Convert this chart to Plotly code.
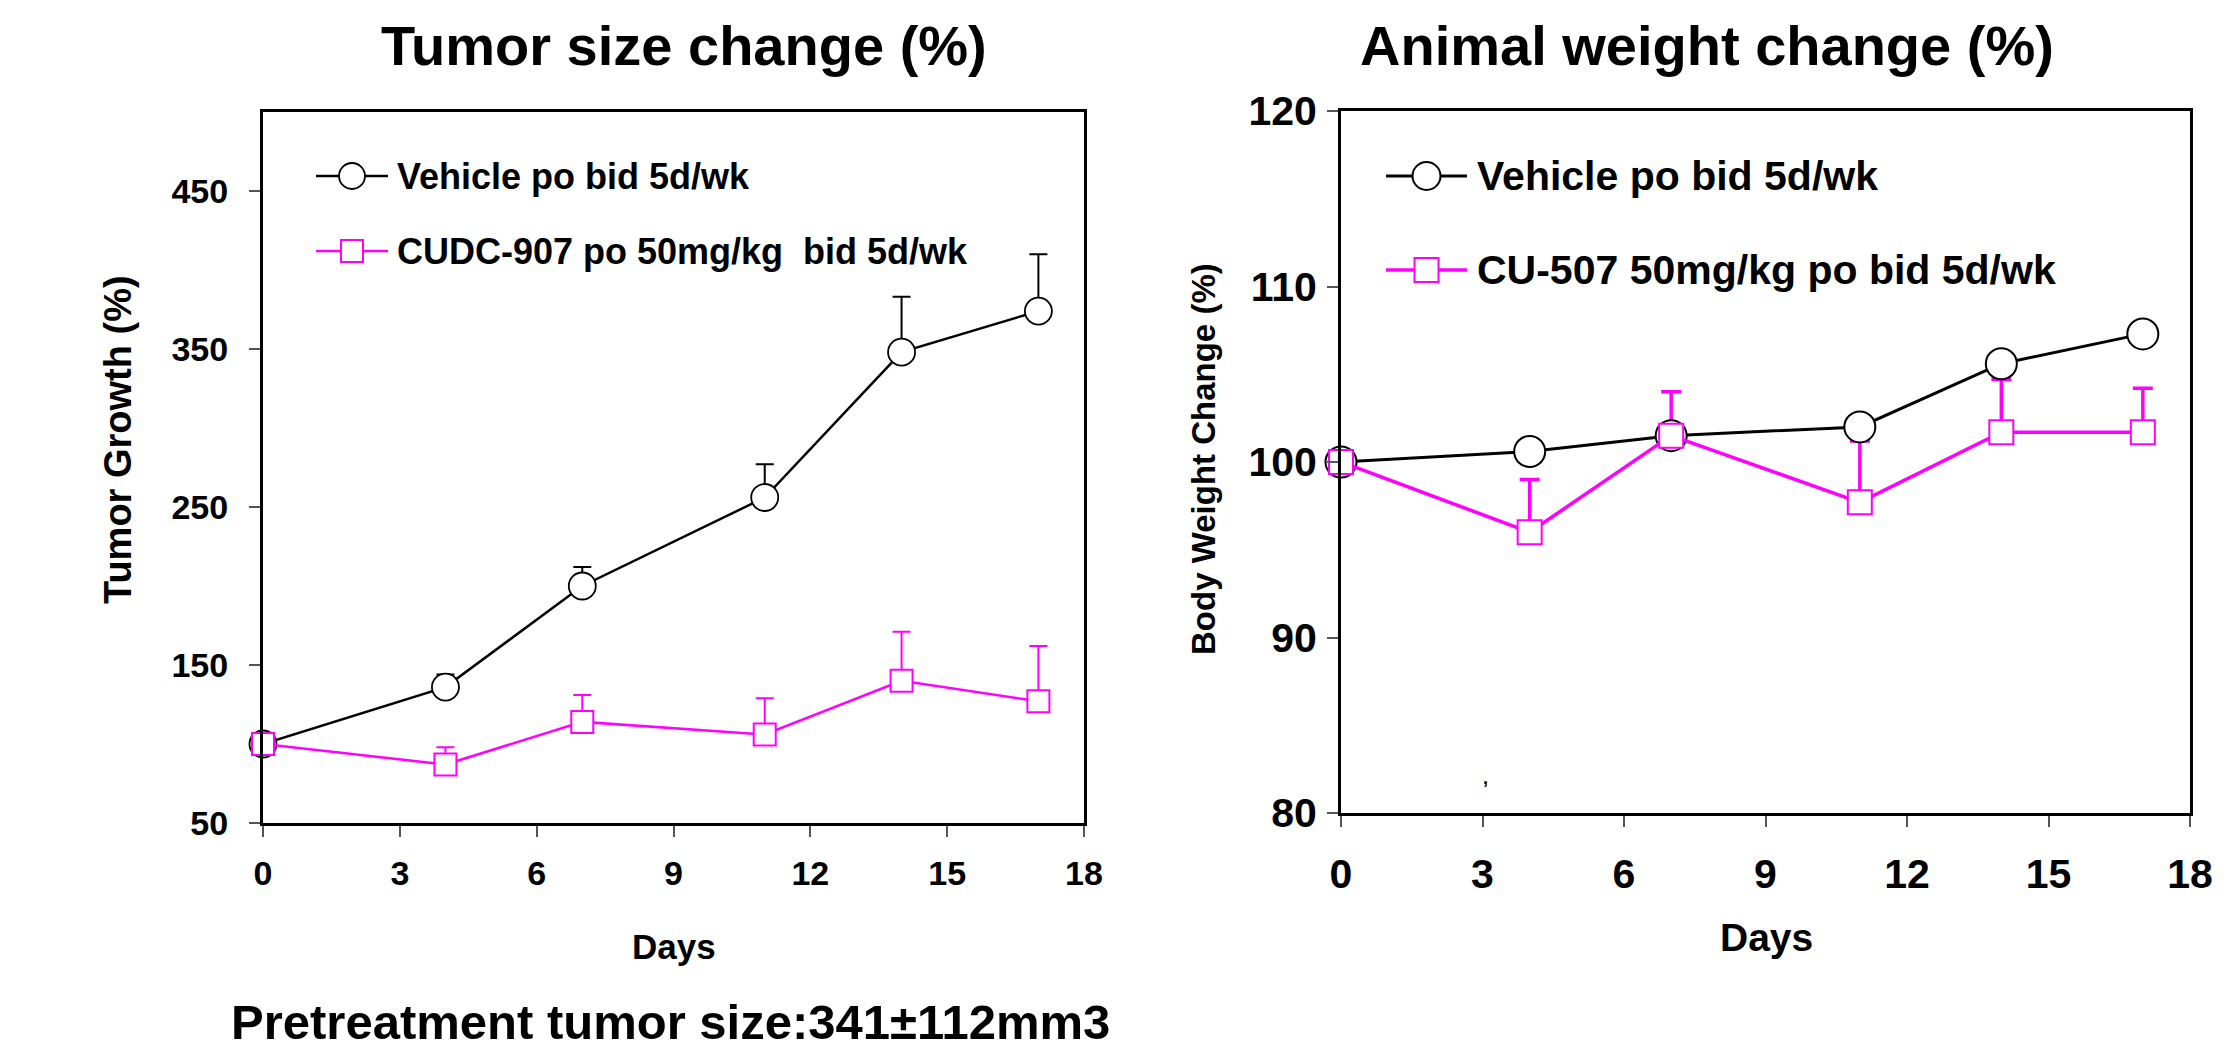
import plotly.graph_objects as go

# ---------------- data ----------------
days = [0, 4, 7, 11, 14, 17]

tumor_vehicle = [100, 136, 200, 256, 348, 374]
tumor_vehicle_err = [0, 8, 12, 21, 35, 36]
tumor_cudc = [100, 87, 114, 106, 140, 127]
tumor_cudc_err = [0, 11, 17, 23, 31, 35]

weight_vehicle = [100, 100.6, 101.5, 102.0, 105.6, 107.3]
weight_cu = [100, 96.0, 101.5, 97.7, 101.7, 101.7]
weight_cu_err = [0, 3.0, 2.5, 3.5, 3.0, 2.5]

x_ticks = [0, 3, 6, 9, 12, 15, 18]
tumor_ticks = [50, 150, 250, 350, 450]
weight_ticks = [80, 90, 100, 110, 120]

left_title = "Tumor size change (%)"
right_title = "Animal weight change (%)"
left_ylabel = "Tumor Growth (%)"
right_ylabel = "Body Weight Change (%)"
xlabel = "Days"
left_legend = ["Vehicle po bid 5d/wk", "CUDC-907 po 50mg/kg\u00a0 bid 5d/wk"]
right_legend = ["Vehicle po bid 5d/wk", "CU-507 50mg/kg po bid 5d/wk"]
footnote = "Pretreatment tumor size:341\u00b1112mm3"

# ---------------- styling ----------------
W, H = 2237, 1052
FONT = "Liberation Sans, Arial, sans-serif"
MAG = "#FF00FF"


def px(x):
    return x / W


def py(y):
    return 1 - y / H


fig = go.Figure()

# ---- left panel: error bars first (beneath everything) ----
fig.add_trace(go.Scatter(
    x=days, y=tumor_vehicle, mode="markers", marker=dict(size=1, opacity=0),
    error_y=dict(type="data", symmetric=False, array=tumor_vehicle_err,
                 arrayminus=[0] * len(days), color="black", thickness=2, width=9),
    xaxis="x", yaxis="y", showlegend=False, hoverinfo="skip"))
fig.add_trace(go.Scatter(
    x=days, y=tumor_cudc, mode="markers", marker=dict(size=1, opacity=0),
    error_y=dict(type="data", symmetric=False, array=tumor_cudc_err,
                 arrayminus=[0] * len(days), color=MAG, thickness=2, width=9),
    xaxis="x", yaxis="y", showlegend=False, hoverinfo="skip"))
fig.add_trace(go.Scatter(
    x=days, y=tumor_vehicle, mode="lines+markers", name=left_legend[0],
    line=dict(color="black", width=2.5),
    marker=dict(symbol="circle", size=27, color="white",
                line=dict(color="black", width=1.8)),
    xaxis="x", yaxis="y", showlegend=False, cliponaxis=False))
fig.add_trace(go.Scatter(
    x=days, y=tumor_cudc, mode="lines+markers", name=left_legend[1],
    line=dict(color=MAG, width=2.5),
    marker=dict(symbol="square", size=22, color="white",
                line=dict(color=MAG, width=2)),
    xaxis="x", yaxis="y", showlegend=False, cliponaxis=False))

# ---- right panel ----
fig.add_trace(go.Scatter(
    x=days, y=weight_cu, mode="markers", marker=dict(size=1, opacity=0),
    error_y=dict(type="data", symmetric=False, array=weight_cu_err,
                 arrayminus=[0] * len(days), color=MAG, thickness=3.5, width=10),
    xaxis="x2", yaxis="y2", showlegend=False, hoverinfo="skip"))
fig.add_trace(go.Scatter(
    x=days, y=weight_vehicle, mode="lines+markers", name=right_legend[0],
    line=dict(color="black", width=3),
    marker=dict(symbol="circle", size=31, color="white",
                line=dict(color="black", width=2)),
    xaxis="x2", yaxis="y2", showlegend=False, cliponaxis=False))
fig.add_trace(go.Scatter(
    x=days, y=weight_cu, mode="lines+markers", name=right_legend[1],
    line=dict(color=MAG, width=3.5),
    marker=dict(symbol="square", size=24, color="white",
                line=dict(color=MAG, width=2)),
    xaxis="x2", yaxis="y2", showlegend=False, cliponaxis=False))


def axis_common(size, standoff):
    return dict(
        showline=True, linecolor="black", linewidth=3, mirror=True,
        showgrid=False, zeroline=False, automargin=False,
        ticks="outside", ticklen=11, tickwidth=1.5, tickcolor="#555",
        ticklabelstandoff=standoff,
        tickfont=dict(family=FONT, size=size, color="black", weight="bold"),
    )


fig.update_layout(
    width=W, height=H,
    margin=dict(l=0, r=0, t=0, b=0, pad=0, autoexpand=False),
    paper_bgcolor="white", plot_bgcolor="white",
    showlegend=False,
    xaxis=dict(domain=[px(263), px(1084)], range=[0, 18], tickvals=x_ticks,
               anchor="y", **axis_common(34, 7)),
    yaxis=dict(domain=[py(823), py(112)], range=[50, 500], tickvals=tumor_ticks,
               anchor="x", **axis_common(34, 14)),
    xaxis2=dict(domain=[px(1341), px(2190)], range=[0, 18], tickvals=x_ticks,
                anchor="y2", **axis_common(41, 12)),
    yaxis2=dict(domain=[py(813), py(111)], range=[80, 120], tickvals=weight_ticks,
                anchor="x2", **axis_common(41, 2)),
)

annotations = []


def text(s, x, y, size, xanchor="center", angle=0, family=FONT):
    annotations.append(dict(
        text=s, x=px(x), y=py(y), xref="paper", yref="paper",
        xanchor=xanchor, yanchor="middle", showarrow=False, textangle=angle,
        font=dict(family=family, size=size, color="black", weight="bold")))


text(left_title, 684, 46, 56)
text(right_title, 1707, 46, 56)
text(xlabel, 674, 946, 35)
text(xlabel, 1766, 937, 39)
text(left_ylabel, 118, 440, 38, angle=-90)
text(right_ylabel, 1204, 459, 33, angle=-90)
text(footnote, 670, 1022, 49)
text(",", 1485, 778, 18)

# legends (drawn manually to match the long legend lines)
shapes = []


def legend_item(x0, x1, y, color, lw, symbol, msize, mlw, label, tx, fsize):
    shapes.append(dict(type="line", xref="paper", yref="paper",
                       x0=px(x0), x1=px(x1), y0=py(y), y1=py(y),
                       line=dict(color=color, width=lw), layer="above"))
    cx = (x0 + x1) / 2
    h = msize / 2
    shapes.append(dict(type="circle" if symbol == "circle" else "rect",
                       xref="paper", yref="paper",
                       xsizemode="pixel", ysizemode="pixel",
                       xanchor=px(cx), yanchor=py(y),
                       x0=-h, x1=h, y0=-h, y1=h,
                       fillcolor="white", line=dict(color=color, width=mlw),
                       layer="above"))
    text(label, tx, y, fsize, xanchor="left")


legend_item(316, 388, 176, "black", 2.5, "circle", 26, 1.8, left_legend[0], 395, 36)
legend_item(316, 388, 251, MAG, 2.5, "square", 22, 2, left_legend[1], 395, 36)
legend_item(1386, 1467, 176, "black", 3, "circle", 28, 2, right_legend[0], 1475, 41)
legend_item(1386, 1467, 270, MAG, 3.5, "square", 24, 2, right_legend[1], 1475, 41)

fig.update_layout(annotations=annotations, shapes=shapes)

fig.write_html(
    "out.html",
    config={"displayModeBar": False},
    post_script="document.body.style.margin='0';document.body.style.overflow='hidden';",
)
